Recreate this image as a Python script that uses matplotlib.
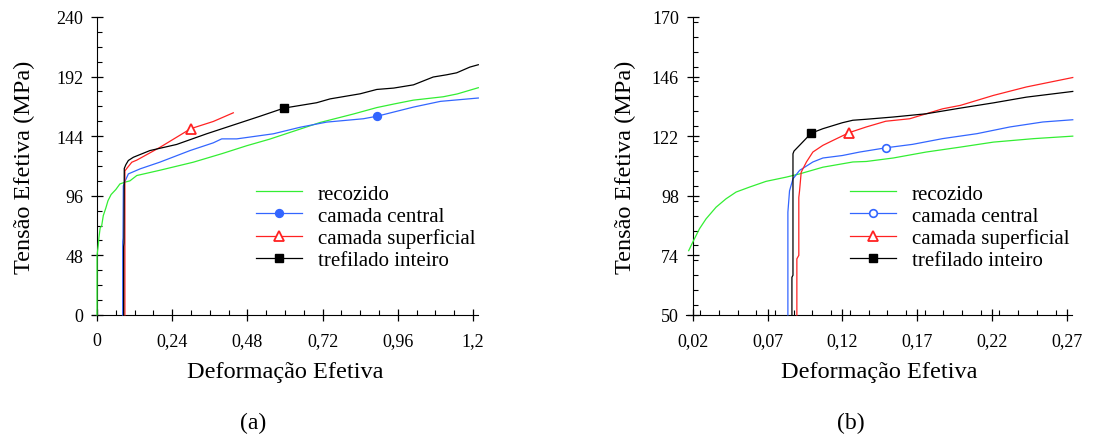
import matplotlib
matplotlib.use("Agg")
import matplotlib.pyplot as plt
from matplotlib.ticker import MultipleLocator

plt.rcParams["font.family"] = ["Liberation Serif", "DejaVu Serif"]

COR_VERDE = "#33ee33"
COR_AZUL = "#3366ff"
COR_VERMELHO = "#ff2222"
COR_PRETO = "#000000"

ROTULOS = ["recozido", "camada central", "camada superficial", "trefilado inteiro"]

# ---- painel (a): curva completa ----
a_rec_x = [0, 0, 0.004, 0.006, 0.01, 0.015, 0.02, 0.028, 0.035, 0.045, 0.06, 0.073,
           0.09, 0.105, 0.127, 0.2, 0.307, 0.4, 0.478, 0.55, 0.616, 0.712, 0.818,
           0.893, 0.95, 1.01, 1.105, 1.15, 1.217]
a_rec_y = [0, 48, 56, 62, 70, 72, 80, 86, 92, 97, 101, 105.5,
           107, 108, 112.3, 116.5, 123, 130, 136.3, 141.5, 147, 155, 161.8,
           167, 170, 173, 175.7, 178, 183]

a_cen_x = [0.082, 0.082, 0.083, 0.084, 0.09, 0.1, 0.138, 0.2, 0.297, 0.371, 0.398,
           0.446, 0.563, 0.649, 0.733, 0.85, 0.895, 1.01, 1.096, 1.217]
a_cen_y = [0, 59, 62, 104, 108, 113.6, 117.7, 123, 132.4, 138.6, 141.8,
           141.8, 145.9, 151.2, 155.3, 158, 160.1, 167.4, 172, 174.7]

a_sup_x = [0.089, 0.089, 0.095, 0.111, 0.127, 0.201, 0.299, 0.371, 0.435]
a_sup_y = [0, 116, 118, 123, 124.7, 135, 150, 155.8, 162.8]

a_tre_x = [0.085, 0.085, 0.086, 0.087, 0.092, 0.1, 0.116, 0.169, 0.254, 0.35, 0.52,
           0.597, 0.701, 0.744, 0.84, 0.893, 0.947, 1.01, 1.073, 1.116, 1.148,
           1.19, 1.217]
a_tre_y = [0, 55, 58, 118, 121, 124.4, 127, 132.4, 137.3, 145.9, 160,
           166.6, 170.9, 174, 178.1, 181.6, 182.7, 185.3, 191.6, 193.4, 195,
           199.6, 201.5]

a_marc_cen = (0.895, 160.1)
a_marc_sup = (0.299, 150)
a_marc_tre = (0.597, 166.6)

a_xticks = [0, 0.24, 0.48, 0.72, 0.96, 1.2]
a_xticklabels = ["0", "0,24", "0,48", "0,72", "0,96", "1,2"]
a_yticks = [0, 48, 96, 144, 192, 240]

# ---- painel (b): detalhe do escoamento ----
b_rec_x = [0.0173, 0.02, 0.0245, 0.0289, 0.0356, 0.0423, 0.049, 0.058, 0.069,
           0.0825, 0.0914, 0.107, 0.127, 0.136, 0.154, 0.176, 0.199, 0.221,
           0.248, 0.274]
b_rec_y = [75.9, 79.3, 84.7, 88.7, 93.4, 96.8, 99.5, 101.5, 103.8,
           105.5, 106.8, 109.5, 111.6, 111.8, 113.2, 115.6, 117.6, 119.6,
           121, 122]

b_cen_x = [0.0836, 0.0836, 0.0847, 0.087, 0.0914, 0.1003, 0.107, 0.12, 0.1316,
           0.149, 0.167, 0.187, 0.21, 0.232, 0.254, 0.274]
b_cen_y = [50, 91.4, 100, 104.8, 108.2, 111.6, 113.2, 114.2, 115.6,
           117.3, 118.7, 121, 123, 125.7, 127.7, 128.6]

b_sup_x = [0.0896, 0.0896, 0.0909, 0.0909, 0.0914, 0.0925, 0.096, 0.1003, 0.107,
           0.1138, 0.1245, 0.136, 0.149, 0.165, 0.187, 0.199, 0.221, 0.243, 0.274]
b_sup_y = [50, 72.6, 74, 97.3, 100, 107.5, 111.6, 115.6, 118.3,
           120.3, 123.4, 125.7, 128, 129, 133, 134.4, 138.4, 141.8, 145.6]

b_tre_x = [0.0863, 0.0863, 0.087, 0.087, 0.0877, 0.0914, 0.0992, 0.107, 0.12,
           0.127, 0.136, 0.154, 0.176, 0.199, 0.221, 0.243, 0.274]
b_tre_y = [50, 65.2, 66, 114.9, 116, 118.3, 123.2, 125, 127.4,
           128.4, 128.8, 129.7, 131, 133.3, 135.4, 137.7, 140]

b_marc_cen = (0.149, 117.3)
b_marc_sup = (0.1245, 123.4)
b_marc_tre = (0.0992, 123.2)

b_xticks = [0.02, 0.07, 0.12, 0.17, 0.22, 0.27]
b_xticklabels = ["0,02", "0,07", "0,12", "0,17", "0,22", "0,27"]
b_yticks = [50, 74, 98, 122, 146, 170]


def desenhar(ax, curvas, marcas, marcador_cen_cheio):
    (rx, ry), (cx, cy), (sx, sy), (tx, ty) = curvas
    mc, ms, mt = marcas
    lw = 0.9
    ax.plot(rx, ry, color=COR_VERDE, lw=lw, zorder=3, clip_on=False)
    ax.plot(cx, cy, color=COR_AZUL, lw=lw, zorder=3, clip_on=False)
    ax.plot(sx, sy, color=COR_VERMELHO, lw=lw, zorder=3, clip_on=False)
    ax.plot(tx, ty, color=COR_PRETO, lw=lw, zorder=3, clip_on=False)
    face_cen = COR_AZUL if marcador_cen_cheio else "white"
    ax.plot([mc[0]], [mc[1]], "o", ms=5.5, mfc=face_cen, mec=COR_AZUL, mew=1.2, zorder=4)
    ax.plot([ms[0]], [ms[1]], "^", ms=6.5, mfc="white", mec=COR_VERMELHO, mew=1.3, zorder=4)
    ax.plot([mt[0]], [mt[1]], "s", ms=5.5, mfc=COR_PRETO, mec=COR_PRETO, zorder=4)

    h = [
        plt.Line2D([], [], color=COR_VERDE, lw=lw),
        plt.Line2D([], [], color=COR_AZUL, lw=lw, marker="o", ms=5.5,
                   mfc=face_cen, mec=COR_AZUL, mew=1.2),
        plt.Line2D([], [], color=COR_VERMELHO, lw=lw, marker="^", ms=6.5,
                   mfc="white", mec=COR_VERMELHO, mew=1.3),
        plt.Line2D([], [], color=COR_PRETO, lw=lw, marker="s", ms=5.5,
                   mfc=COR_PRETO, mec=COR_PRETO),
    ]
    ax.legend(h, ROTULOS, loc="center left", bbox_to_anchor=(0.425, 0.295),
              frameon=False, fontsize=15, handlelength=2.2, handletextpad=0.75,
              labelspacing=0.12, borderpad=0, borderaxespad=0)


def estilo(ax, x0, xlim, ylim, xticks, xlabels, yticks, xmin, ymin, ypad):
    for s in ["top", "right"]:
        ax.spines[s].set_visible(False)
    ax.spines["left"].set_position(("data", x0))
    ax.set_xlim(*xlim)
    ax.set_ylim(*ylim)
    ax.set_xticks(xticks)
    ax.set_xticklabels(xlabels)
    ax.set_yticks(yticks)
    ax.xaxis.set_minor_locator(MultipleLocator(xmin))
    ax.yaxis.set_minor_locator(MultipleLocator(ymin))
    ax.tick_params(which="major", direction="inout", length=8, width=0.9,
                   labelsize=13)
    ax.tick_params(axis="x", which="major", pad=8)
    ax.tick_params(axis="y", which="major", pad=6)
    ax.tick_params(which="minor", direction="in", length=3.5, width=0.8)
    ax.set_xlabel("Deformação Efetiva", fontsize=17.5, labelpad=9)
    ax.set_ylabel("Tensão Efetiva (MPa)", fontsize=17.5, labelpad=ypad)


fig = plt.figure(figsize=(10.95, 4.39), dpi=100)
ax_a = fig.add_axes([92 / 1095, 0.2802, 386 / 1095, 0.679])
ax_b = fig.add_axes([686 / 1095, 0.2802, 386 / 1095, 0.679])

desenhar(ax_a, [(a_rec_x, a_rec_y), (a_cen_x, a_cen_y), (a_sup_x, a_sup_y), (a_tre_x, a_tre_y)],
         [a_marc_cen, a_marc_sup, a_marc_tre], True)
estilo(ax_a, 0, (-0.016, 1.216), (0, 240), a_xticks, a_xticklabels, a_yticks, 0.06, 12, 15)

desenhar(ax_b, [(b_rec_x, b_rec_y), (b_cen_x, b_cen_y), (b_sup_x, b_sup_y), (b_tre_x, b_tre_y)],
         [b_marc_cen, b_marc_sup, b_marc_tre], False)
estilo(ax_b, 0.02, (0.0155, 0.2735), (50, 170), b_xticks, b_xticklabels, b_yticks, 0.0125, 6, 11)

fig.text(253 / 1095, 1 - 423 / 439, "(a)", ha="center", va="center", fontsize=17)
fig.text(851 / 1095, 1 - 423 / 439, "(b)", ha="center", va="center", fontsize=17)

plt.savefig("out.png", dpi=100)
plt.close()
